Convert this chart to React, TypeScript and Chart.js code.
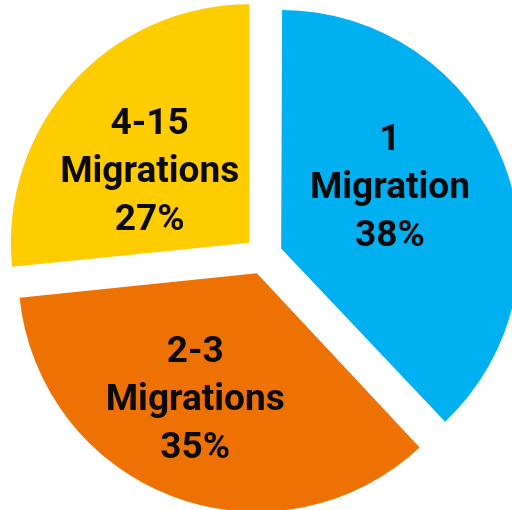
import React, { useEffect, useRef } from "react";
import { Chart, registerables } from "chart.js";

Chart.register(...registerables);

// ---- data ----
const categories = ["1 Migration", "2-3 Migrations", "4-15 Migrations"];
const labelTitles = [["1", "Migration"], ["2-3", "Migrations"], ["4-15", "Migrations"]];
const shares = [38.0, 35.4, 26.6];
const percentLabels = ["38%", "35%", "27%"];

// ---- styles ----
const sliceColors = ["#00B0F0", "#EE7203", "#FFCC00"];
const PIE_RADIUS = 238.5;
const SLICE_OFFSET = 76; // Chart.js translates by offset / 4
const LABEL_DIST = 125;
const LABEL_NUDGE: [number, number][] = [
  [-7.5, -17.5],
  [-17.8, 7],
  [-7, 10],
];
const LINE_H = 48;
const FONT = "bold 37px Roboto, 'DejaVu Sans', sans-serif";

const radiusFix = {
  id: "radiusFix",
  beforeDatasetsDraw(chart: any) {
    const meta = chart.getDatasetMeta(0);
    meta.data.forEach((arc: any) => {
      const off = (arc.options.offset || 0) / 4;
      const fix = 1 - Math.sin(Math.min(Math.PI, arc.circumference || 0));
      arc.outerRadius = PIE_RADIUS - off * fix;
    });
  },
};

const sliceLabels = {
  id: "sliceLabels",
  afterDatasetsDraw(chart: any) {
    const ctx = chart.ctx as CanvasRenderingContext2D;
    const meta = chart.getDatasetMeta(0);
    ctx.save();
    ctx.font = FONT;
    ctx.fillStyle = "#0a0a0a";
    ctx.textAlign = "center";
    ctx.textBaseline = "alphabetic";
    meta.data.forEach((arc: any, i: number) => {
      const mid = (arc.startAngle + arc.endAngle) / 2;
      const t = (arc.options.offset || 0) / 4;
      const cx = arc.x + Math.cos(mid) * (t + LABEL_DIST) + LABEL_NUDGE[i][0];
      const cy = arc.y + Math.sin(mid) * (t + LABEL_DIST) + LABEL_NUDGE[i][1];
      const lines = [...labelTitles[i], percentLabels[i]];
      const base = cy + 13;
      lines.forEach((ln, k) => {
        ctx.fillText(ln, cx, base + (k - 1) * LINE_H);
      });
    });
    ctx.restore();
  },
};

export default function App() {
  const ref = useRef<HTMLCanvasElement | null>(null);
  useEffect(() => {
    if (!ref.current) return;
    const chart = new Chart(ref.current, {
      type: "pie",
      data: {
        labels: categories,
        datasets: [
          {
            data: shares,
            backgroundColor: sliceColors,
            borderWidth: 0,
            offset: SLICE_OFFSET,
            hoverOffset: SLICE_OFFSET,
          } as any,
        ],
      },
      options: {
        animation: false,
        responsive: false,
        events: [],
        radius: PIE_RADIUS,
        layout: { padding: { left: 15, top: 1, right: 0, bottom: 0 } },
        plugins: {
          legend: { display: false },
          tooltip: { enabled: false },
        },
      } as any,
      plugins: [radiusFix, sliceLabels],
    });
    return () => chart.destroy();
  }, []);
  return (
    <div style={{ position: "absolute", left: 0, top: 0, width: 512, height: 510, background: "#fff" }}>
      <canvas ref={ref} width={512} height={510} style={{ display: "block" }} />
    </div>
  );
}
